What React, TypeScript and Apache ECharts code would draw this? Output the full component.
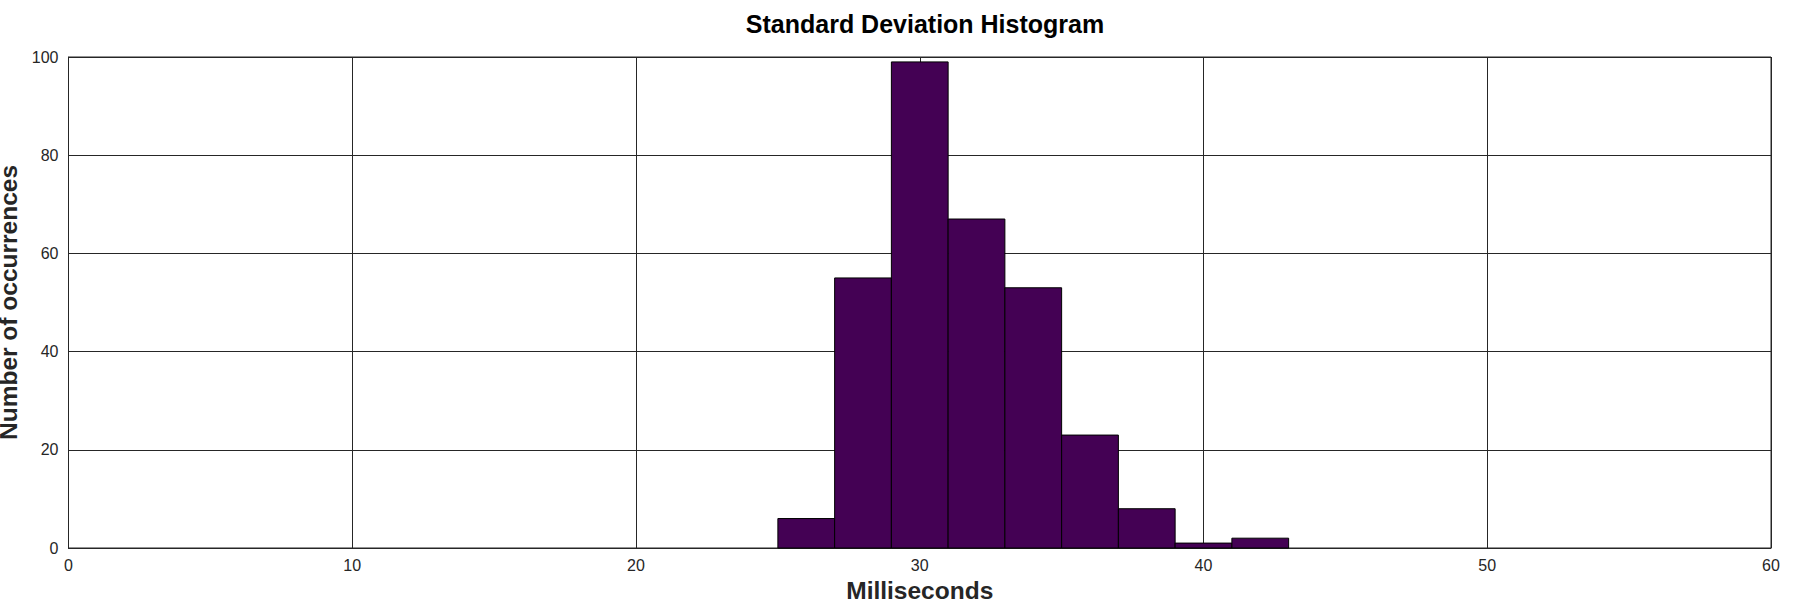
import { useRef, useEffect } from 'react';
import * as echarts from 'echarts';

// histogram bins (ms) and counts
const binStarts = [25, 27, 29, 31, 33, 35, 37, 39, 41];
const binWidth = 2;
const counts = [6, 55, 99, 67, 53, 23, 8, 1, 2];

const xTicks = { min: 0, max: 60, interval: 10 };
const yTicks = { min: 0, max: 100, interval: 20 };

const FONT = '"Liberation Sans", Arial, Helvetica, sans-serif';
const INK = '#262626';

const App: React.FC = () => {
    const chartRef = useRef<HTMLDivElement>(null);

    useEffect(() => {
        document.body.style.margin = '0';
        if (!chartRef.current) return;
        const chart = echarts.init(chartRef.current, null, { renderer: 'svg' });

        const data = binStarts.map((s, i) => [s, s + binWidth, counts[i]]);

        const option: echarts.EChartsOption = {
            animation: false,
            backgroundColor: '#ffffff',
            title: {
                text: 'Standard Deviation Histogram',
                left: 920,
                top: 6,
                textAlign: 'center',
                textStyle: { fontFamily: FONT, fontSize: 25, fontWeight: 'bold', color: '#000' },
            },
            grid: {
                left: 68.5,
                right: 29,
                top: 57,
                bottom: 52,
                containLabel: false,
                outerBoundsMode: 'none',
                show: true,
                borderColor: INK,
                borderWidth: 1,
                backgroundColor: 'transparent',
            } as any,
            xAxis: {
                type: 'value',
                ...xTicks,
                name: 'Milliseconds',
                nameLocation: 'middle',
                nameGap: 28,
                nameTextStyle: { fontFamily: FONT, fontSize: 24.5, fontWeight: 'bold', color: INK },
                axisLine: { show: true, lineStyle: { color: INK, width: 1 } },
                axisTick: { show: false },
                axisLabel: { fontFamily: FONT, fontSize: 16, color: INK, margin: 9 },
                splitLine: { show: true, lineStyle: { color: INK, width: 1 } },
            },
            yAxis: {
                type: 'value',
                ...yTicks,
                name: 'Number of occurrences',
                nameLocation: 'middle',
                nameGap: 40,
                nameTextStyle: { fontFamily: FONT, fontSize: 24.5, fontWeight: 'bold', color: INK },
                axisLine: { show: true, lineStyle: { color: INK, width: 1 } },
                axisTick: { show: false },
                axisLabel: { fontFamily: FONT, fontSize: 16, color: INK, margin: 10 },
                splitLine: { show: true, lineStyle: { color: INK, width: 1 } },
            },
            series: [
                {
                    type: 'custom',
                    data,
                    encode: { x: [0, 1], y: 2 },
                    renderItem: (_params: any, api: any) => {
                        const top = api.coord([api.value(0), api.value(2)]);
                        const bottom = api.coord([api.value(1), 0]);
                        return {
                            type: 'rect',
                            shape: {
                                x: top[0],
                                y: top[1],
                                width: bottom[0] - top[0],
                                height: bottom[1] - top[1],
                            },
                            style: { fill: '#440154', stroke: '#000', lineWidth: 1 },
                        };
                    },
                },
            ],
        };

        chart.setOption(option);

        return () => {
            chart.dispose();
        };
    }, []);

    return <div ref={chartRef} style={{ width: '1800px', height: '600px' }} />;
};

export default App;
